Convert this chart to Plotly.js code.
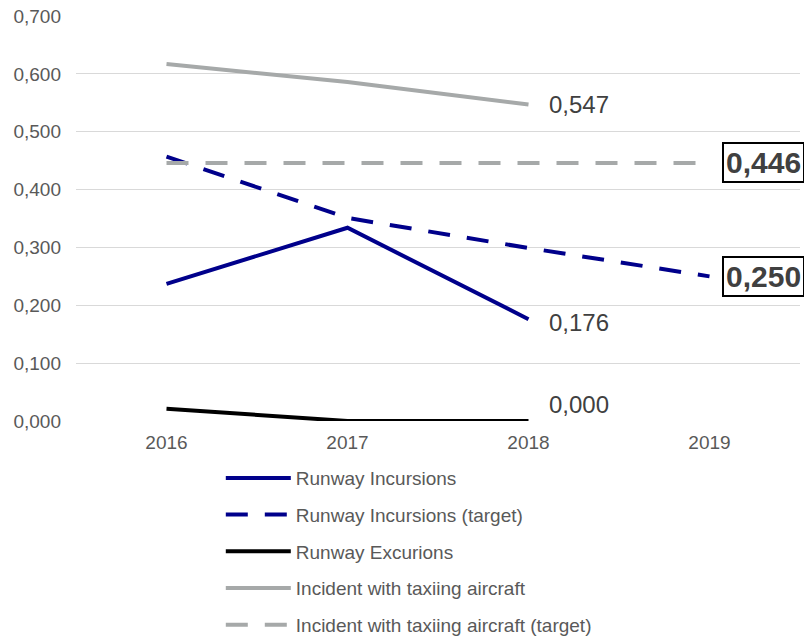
<!DOCTYPE html>
<html>
<head>
<meta charset="utf-8">
<script src="https://cdn.plot.ly/plotly-3.0.1.min.js"></script>
<style>html,body{margin:0;padding:0;background:#fff;}#chart{width:804px;height:638px;}</style>
</head>
<body>
<div id="chart"></div>
<script>
var years = ['2016', '2017', '2018', '2019'];
var runwayIncursions = [0.237, 0.334, 0.176];
var runwayIncursionsTarget = [0.457, 0.351, 0.299, 0.250];
var runwayExcursions = [0.021, 0.000, 0.000];
var taxiing = [0.617, 0.586, 0.547];
var taxiingTarget = [0.446, 0.446, 0.446, 0.446];
var yTicks = [0, 0.1, 0.2, 0.3, 0.4, 0.5, 0.6, 0.7];

var NAVY = '#00008B';
var GRAY = '#A6A9A9';
var DASH = '22px,17px';

function fmt(v) { return v.toFixed(3).replace('.', ','); }

var traces = [
  {name: 'Runway Incursions', x: years.slice(0, runwayIncursions.length), y: runwayIncursions,
   line: {color: NAVY, width: 4}, legendgroup: 'a'},
  {name: 'Runway Incursions (target)', x: years.slice(0, runwayIncursionsTarget.length), y: runwayIncursionsTarget,
   line: {color: NAVY, width: 4, dash: DASH}, legendgroup: 'b'},
  {name: 'Runway Excurions', x: years.slice(0, runwayExcursions.length), y: runwayExcursions,
   line: {color: '#000000', width: 4}, legendgroup: 'c'},
  {name: 'Incident with taxiing aircraft', x: years.slice(0, taxiing.length), y: taxiing,
   line: {color: GRAY, width: 4}, legendgroup: 'd'},
  {name: 'Incident with taxiing aircraft (target)', x: years.slice(0, taxiingTarget.length), y: taxiingTarget,
   line: {color: GRAY, width: 4, dash: DASH}, legendgroup: 'e'}
];
traces.forEach(function (t) { t.type = 'scatter'; t.mode = 'lines'; t.cliponaxis = false; });

function lastIdx(arr) { return arr.length - 1; }

var plainFont = {family: 'Liberation Sans, Arial, sans-serif', size: 24, color: '#404040'};
var boldFont = {family: 'Liberation Sans, Arial, sans-serif', size: 30, color: '#404040', weight: 'bold'};

var annotations = [
  {x: lastIdx(taxiing), y: taxiing[lastIdx(taxiing)], text: fmt(taxiing[lastIdx(taxiing)]),
   xshift: 18, yshift: 0, font: plainFont},
  {x: lastIdx(runwayIncursions), y: runwayIncursions[lastIdx(runwayIncursions)], text: fmt(runwayIncursions[lastIdx(runwayIncursions)]),
   xshift: 18, yshift: -3, font: plainFont},
  {x: lastIdx(runwayExcursions), y: runwayExcursions[lastIdx(runwayExcursions)], text: fmt(runwayExcursions[lastIdx(runwayExcursions)]),
   xshift: 18, yshift: 17, font: plainFont},
  {x: lastIdx(taxiingTarget), y: taxiingTarget[lastIdx(taxiingTarget)], text: '<b>' + fmt(taxiingTarget[lastIdx(taxiingTarget)]) + '</b>',
   xshift: 12, yshift: 0, font: boldFont, bordercolor: '#000', borderwidth: 2, borderpad: 2, bgcolor: '#fff'},
  {x: lastIdx(runwayIncursionsTarget), y: runwayIncursionsTarget[lastIdx(runwayIncursionsTarget)], text: '<b>' + fmt(runwayIncursionsTarget[lastIdx(runwayIncursionsTarget)]) + '</b>',
   xshift: 12, yshift: 0, font: boldFont, bordercolor: '#000', borderwidth: 2, borderpad: 2, bgcolor: '#fff'}
];
annotations.forEach(function (a) {
  a.xref = 'x'; a.yref = 'y'; a.showarrow = false; a.xanchor = 'left'; a.yanchor = 'middle';
});

var layout = {
  width: 804, height: 638,
  margin: {l: 76, r: 4, t: 16, b: 217, autoexpand: false},
  paper_bgcolor: '#fff', plot_bgcolor: '#fff',
  separators: ', ',
  font: {family: 'Liberation Sans, Arial, sans-serif', size: 19, color: '#595959'},
  xaxis: {type: 'category', range: [-0.5, 3.5], showgrid: false, zeroline: false, showline: false,
          ticks: '', ticklabelstandoff: 8, tickfont: {size: 19, color: '#595959'}, fixedrange: true},
  yaxis: {range: [0, 0.7], tickvals: yTicks, tickformat: '.3f', showgrid: true, gridcolor: '#D9D9D9',
          gridwidth: 1, zeroline: false, showline: false, ticks: '', ticklabelstandoff: 14,
          tickfont: {size: 19, color: '#595959'}, fixedrange: true},
  showlegend: true,
  legend: {x: 0.2, xanchor: 'left', xref: 'paper', y: -0.094, yanchor: 'top', yref: 'paper',
           orientation: 'v', traceorder: 'grouped', tracegroupgap: 9, itemwidth: 65,
           font: {size: 19, color: '#595959'}, bgcolor: 'rgba(0,0,0,0)'},
  annotations: annotations
};

Plotly.newPlot('chart', traces, layout, {displayModeBar: false, staticPlot: true});
</script>
</body>
</html>
